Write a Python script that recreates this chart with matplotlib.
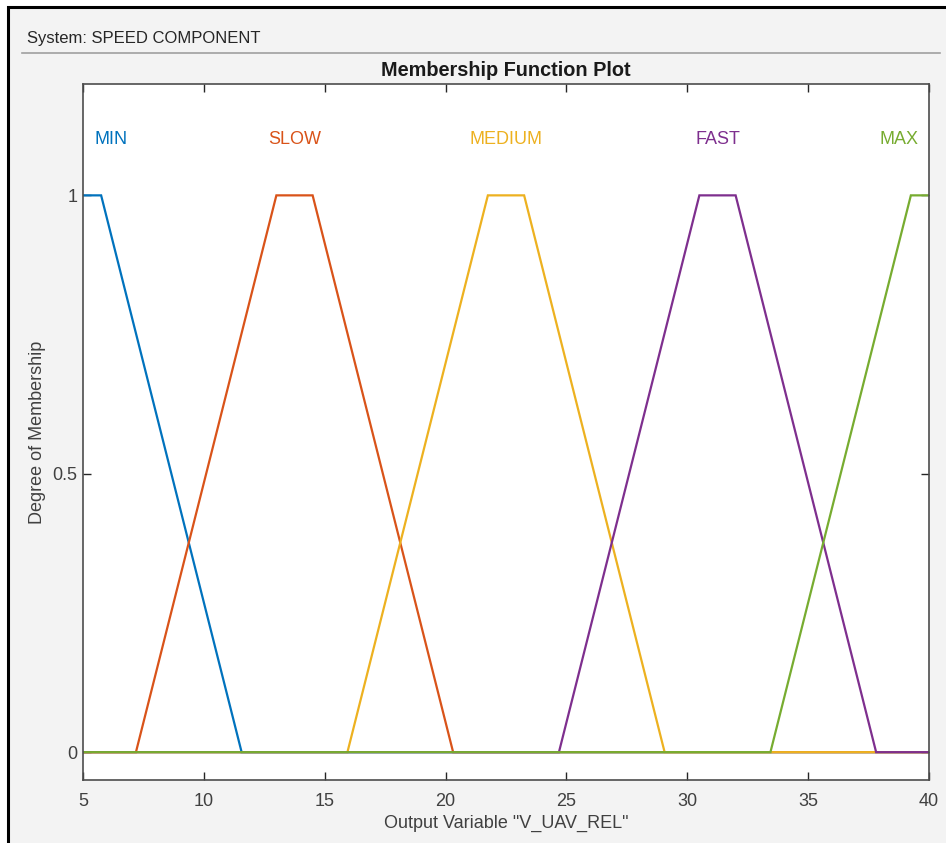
import numpy as np
import matplotlib
matplotlib.use("Agg")
import matplotlib.pyplot as plt
from matplotlib.patches import Rectangle
from matplotlib.lines import Line2D

plt.rcParams['font.family'] = ['Liberation Sans', 'DejaVu Sans']

# trapezoidal membership functions [a b c d] of the output variable
mf_names = ['MIN', 'SLOW', 'MEDIUM', 'FAST', 'MAX']
mf_params = [
    [-1.56, 4.25, 5.75, 11.56],
    [7.19, 13.0, 14.5, 20.31],
    [15.94, 21.75, 23.25, 29.06],
    [24.69, 30.5, 32.0, 37.81],
    [33.44, 39.25, 40.75, 46.56],
]
label_x = [6.15, 13.75, 22.5, 31.25, 38.75]
colors = ['#0072BD', '#D95319', '#EDB120', '#7E2F8E', '#77AC30']

x_range = [5, 40]
x_ticks = [5, 10, 15, 20, 25, 30, 35, 40]
y_ticks = [0, 0.5, 1]


def trapmf(x, p):
    a, b, c, d = p
    up = np.where(b > a, (x - a) / max(b - a, 1e-12), 1.0)
    down = np.where(d > c, (d - x) / max(d - c, 1e-12), 1.0)
    return np.clip(np.minimum(np.minimum(up, down), 1.0), 0.0, 1.0)


W, H = 946, 843
fig = plt.figure(figsize=(W / 100, H / 100), dpi=100, facecolor='white')

# grey panel with black frame on left/top
fig.add_artist(Rectangle((8.3 / W, -0.1), 1.2, 1.1 - 7 / H,
                         transform=fig.transFigure, facecolor='#f3f3f3',
                         edgecolor='black', linewidth=2.2, zorder=-10))
fig.text(27 / W, 1 - 38 / H, 'System: SPEED COMPONENT', fontsize=12,
         color='#262626', va='center', ha='left')
fig.add_artist(Line2D([22 / W, 940 / W], [1 - 53 / H, 1 - 53 / H],
                      transform=fig.transFigure, color='#a0a0a0', linewidth=1.2))

ax = fig.add_axes([83 / W, (H - 780) / H, 846 / W, 696 / H])
ax.set_facecolor('white')

xs = np.linspace(x_range[0], x_range[1], 2001)
for p in mf_params:
    extra = [v for v in p if x_range[0] <= v <= x_range[1]]
    xs = np.union1d(xs, extra)

for name, p, lx, col in zip(mf_names, mf_params, label_x, colors):
    ax.plot(xs, trapmf(xs, p), color=col, linewidth=1.6, solid_joinstyle='miter')
    ax.text(lx, 1.1, name, color=col, fontsize=13, ha='center', va='center')

ax.set_xlim(x_range)
ax.set_ylim(-0.05, 1.2)
ax.set_xticks(x_ticks)
ax.set_yticks(y_ticks)
ax.set_yticklabels(['0', '0.5', '1'])
ax.tick_params(direction='in', length=6, width=1, color='#262626',
               labelcolor='#404040', labelsize=13, top=True, right=True)
ax.tick_params(axis='x', pad=9)
ax.tick_params(axis='y', pad=4)
for s in ax.spines.values():
    s.set_color('#4d4d4d')
    s.set_linewidth(1.2)

ax.set_title('Membership Function Plot', fontsize=14.3, fontweight='bold',
             color='#1a1a1a', pad=6)
ax.set_xlabel('Output Variable "V_UAV_REL"', fontsize=13, color='#404040', labelpad=4)
ax.set_ylabel('Degree of Membership', fontsize=13, color='#404040', labelpad=4.5)

fig.savefig('out.png', dpi=100, facecolor=fig.get_facecolor())
